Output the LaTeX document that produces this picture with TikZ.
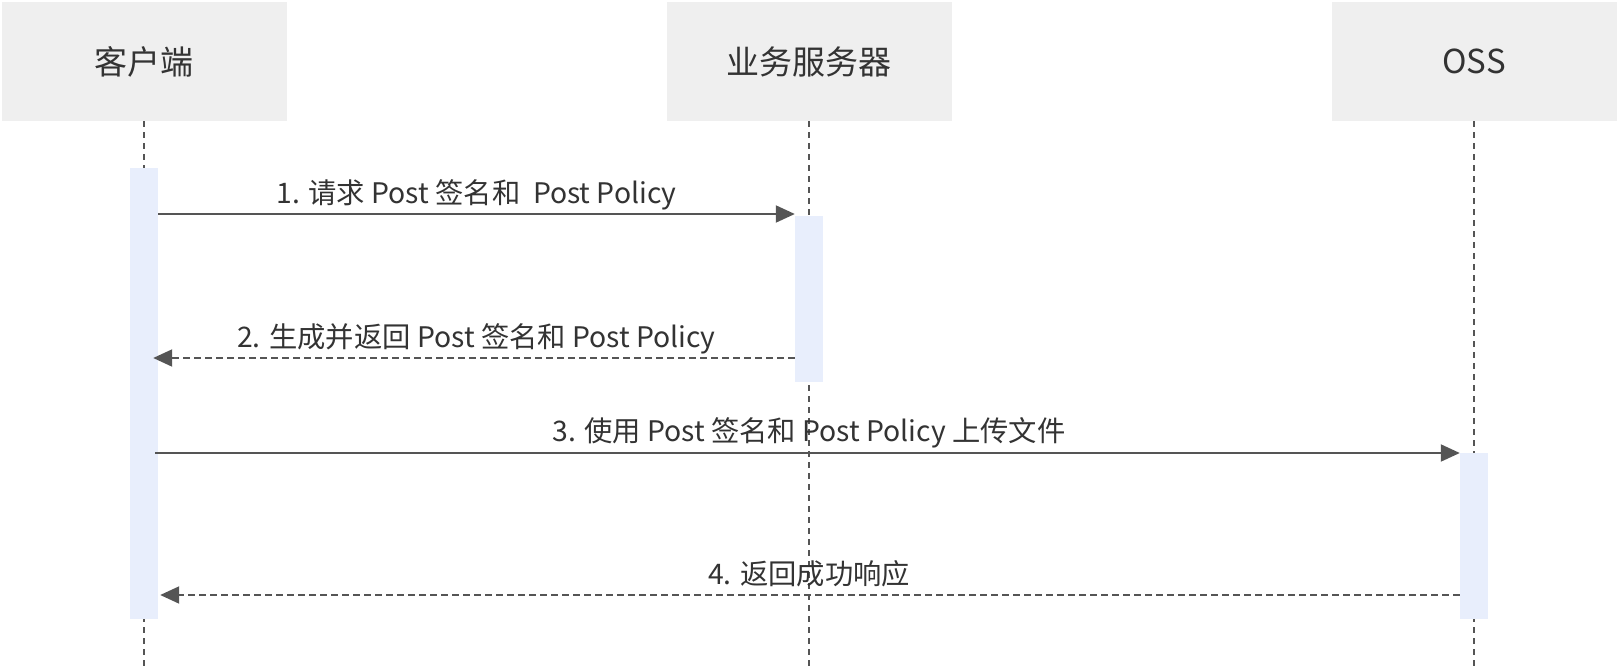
\documentclass[tikz,border=0pt]{standalone}
\usepackage{fontspec}
\setmainfont{Noto Sans CJK SC}
\usetikzlibrary{arrows.meta}
\definecolor{headfill}{HTML}{EFEFEF}
\definecolor{actfill}{HTML}{E8EEFC}
\definecolor{linec}{HTML}{555555}
\definecolor{txt}{HTML}{333333}
\tikzset{
  head/.style={fill=headfill, draw=none, minimum width=285pt, minimum height=119pt, inner sep=0pt, text=txt, font=\fontsize{33}{38}\selectfont},
  act/.style={fill=actfill, draw=none, minimum width=28pt, inner sep=0pt, anchor=north},
  life/.style={draw=linec, line width=1.8pt, dash pattern=on 6pt off 5pt},
  msg/.style={draw=linec, line width=2pt, -{Triangle[length=19pt,width=17pt]}},
  reply/.style={msg, dash pattern=on 7pt off 4pt},
  lbl/.style={text=txt, font=\fontsize{28.3}{32}\selectfont, inner sep=0pt}
}
\begin{document}
\begin{tikzpicture}[x=1pt,y=-1pt]
\useasboundingbox (0,0) rectangle (1618,669);
% headers
\node[head] (h1) at (144,61.5) {客户端};
\node[head] (h2) at (809,61.5) {业务服务器};
\node[head] (h3) at (1474,61.5) {OSS};
% lifelines
\coordinate (e1) at (144,669);
\coordinate (e2) at (809,669);
\coordinate (e3) at (1474,669);
\draw[life] (h1.south) -- (e1);
\draw[life] (h2.south) -- (e2);
\draw[life] (h3.south) -- (e3);
% activations
\node[act, minimum height=451pt] (a1) at (144,168) {};
\node[act, minimum height=166pt] (a2) at (809,216) {};
\node[act, minimum height=166pt] (a3) at (1474,453) {};
% messages
\coordinate (m1s) at (a1.east |- 0,214);
\coordinate (m1e) at (a2.west |- 0,214);
\draw[msg] (m1s) -- (m1e);
\node[lbl] (l1) at (476.5,195) {1. 请求 Post 签名和\ \ Post Policy};

\coordinate (m2s) at (a2.west |- 0,358);
\coordinate (m2e) at ([xshift=-5pt]a1.east |- 0,358);
\draw[reply] (m2s) -- (m2e);
\node[lbl] (l2) at (476.5,339) {2. 生成并返回 Post 签名和 Post Policy};

\coordinate (m3s) at ([xshift=-3pt]a1.east |- 0,453);
\coordinate (m3e) at (a3.west |- 0,453);
\draw[msg] (m3s) -- (m3e);
\node[lbl] (l3) at (809,433) {3. 使用 Post 签名和 Post Policy 上传文件};

\coordinate (m4s) at (a3.west |- 0,595);
\coordinate (m4e) at ([xshift=2pt]a1.east |- 0,595);
\draw[reply] (m4s) -- (m4e);
\node[lbl] (l4) at (809,574) {4. 返回成功响应};
\end{tikzpicture}
\end{document}
